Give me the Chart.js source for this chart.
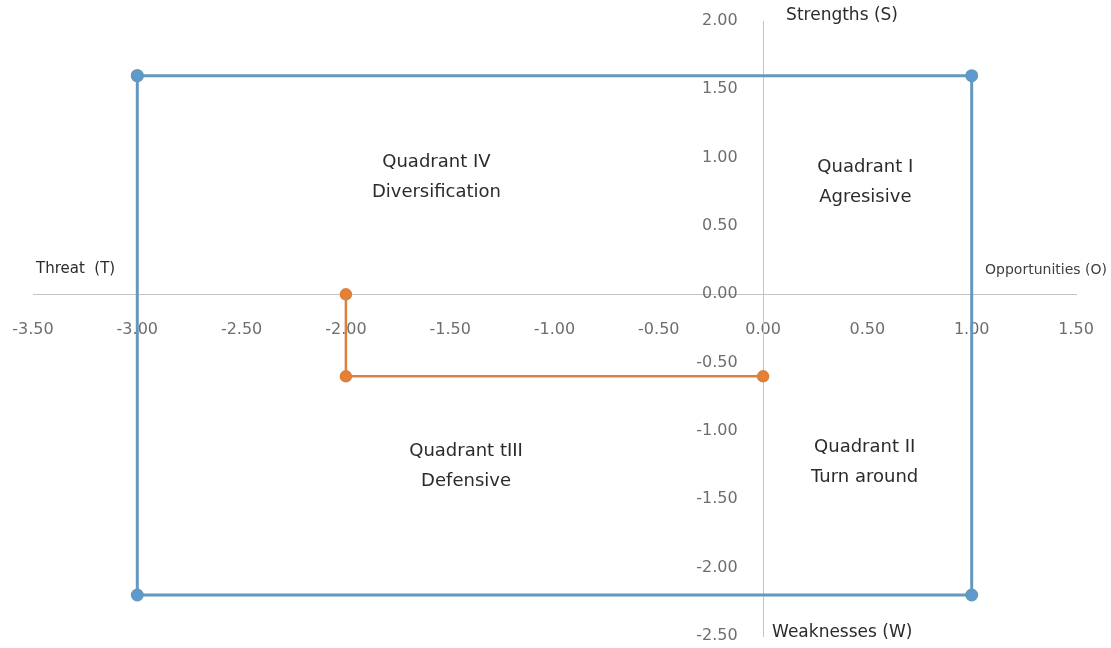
<!DOCTYPE html>
<html>
<head>
<meta charset="utf-8">
<script src="https://cdn.jsdelivr.net/npm/chart.js@4"></script>
<style>
  body { margin: 0; background: #fff; }
  #wrap { width: 1111px; height: 648px; position: relative; }
</style>
</head>
<body>
<div id="wrap"><canvas id="grafica"></canvas></div>
<script>
// datos de la matriz
const cuadroX = [-3, 1, 1, -3, -3];
const cuadroY = [1.6, 1.6, -2.2, -2.2, 1.6];
const posicionX = [-2, -2, 0];
const posicionY = [0, -0.6, -0.6];

const rangoX = [-3.5, 1.5];
const rangoY = [-2.5, 2.0];
const paso = 0.5;

// textos de los cuadrantes (coordenadas en valores de la grafica)
const cuadrantes = [
    { x: -1.566, y: 0.853, lineas: ['Quadrant IV', 'Diversification'] },
    { x: 0.49, y: 0.816, lineas: ['Quadrant I', 'Agresisive'] },
    { x: -1.424, y: -1.259, lineas: ['Quadrant tIII', 'Defensive'] },
    { x: 0.487, y: -1.23, lineas: ['Quadrant II', 'Turn around'] }
];

const fuente = '"DejaVu Sans", Verdana, sans-serif';
const puntos = (xs, ys) => xs.map((x, i) => ({ x: x, y: ys[i] }));

const textos = {
    id: 'textos',
    afterDraw(chart) {
        const ctx = chart.ctx;
        const sx = chart.scales.x;
        const sy = chart.scales.y;
        const cero = sy.getPixelForValue(0);
        ctx.save();
        ctx.fillStyle = '#2b2b2b';
        ctx.textAlign = 'center';
        ctx.textBaseline = 'middle';
        ctx.font = '18px ' + fuente;
        cuadrantes.forEach(c => {
            const px = sx.getPixelForValue(c.x);
            const py = sy.getPixelForValue(c.y);
            ctx.fillText(c.lineas[0], px, py - 15);
            ctx.fillText(c.lineas[1], px, py + 15);
        });

        // nombres de los ejes
        ctx.textAlign = 'left';
        ctx.font = '15px ' + fuente;
        ctx.fillText('Threat  (T)', sx.left + 3, cero - 25);
        ctx.font = '14px ' + fuente;
        ctx.fillStyle = '#404040';
        ctx.textAlign = 'right';
        ctx.fillText('Opportunities (O)', chart.width - 4, cero - 24);
        ctx.fillStyle = '#2b2b2b';
        ctx.font = '17px ' + fuente;
        ctx.textAlign = 'left';
        ctx.fillText('Strengths (S)', sx.getPixelForValue(0) + 23, sy.top - 5);
        ctx.fillText('Weaknesses (W)', sx.getPixelForValue(0) + 9, sy.bottom - 3);
        ctx.restore();
    }
};

const sinRelleno = s => {
    s.paddingLeft = 0;
    s.paddingRight = 0;
    s.paddingTop = 0;
    s.paddingBottom = 0;
};

const ctx = document.getElementById('grafica').getContext('2d');
new Chart(ctx, {
    type: 'scatter',
    data: {
        datasets: [{
            label: 'Cuadro',
            data: puntos(cuadroX, cuadroY),
            showLine: true,
            borderColor: '#6399bf',
            backgroundColor: '#5b9bd5',
            borderWidth: 3,
            pointRadius: 5,
            pointHoverRadius: 5
        }, {
            label: 'Posicion',
            data: puntos(posicionX, posicionY),
            showLine: true,
            borderColor: '#d9813f',
            backgroundColor: '#ed7d31',
            borderWidth: 2.5,
            pointRadius: 5,
            pointHoverRadius: 5
        }]
    },
    options: {
        responsive: true,
        maintainAspectRatio: false,
        animation: false,
        layout: {
            padding: { left: 33, right: 35, top: 21, bottom: 12 }
        },
        scales: {
            x: {
                type: 'linear',
                min: rangoX[0],
                max: rangoX[1],
                position: { y: 0 },
                afterFit: sinRelleno,
                grid: { display: false, drawTicks: false },
                border: { display: true, color: '#c4c4c4', width: 1 },
                ticks: {
                    stepSize: paso,
                    padding: 26,
                    color: '#6e6e6e',
                    font: { size: 16, family: fuente },
                    callback: v => Number(v).toFixed(2)
                }
            },
            y: {
                type: 'linear',
                min: rangoY[0],
                max: rangoY[1],
                position: { x: 0 },
                afterFit: sinRelleno,
                grid: { display: false, drawTicks: false },
                border: { display: true, color: '#c4c4c4', width: 1 },
                ticks: {
                    stepSize: paso,
                    padding: 0,
                    color: '#6e6e6e',
                    font: { size: 16, family: fuente },
                    // espacios para separar las etiquetas del eje
                    callback: v => Number(v).toFixed(2) + '     '
                }
            }
        },
        plugins: {
            legend: { display: false },
            tooltip: { enabled: false }
        }
    },
    plugins: [textos]
});
</script>
</body>
</html>
